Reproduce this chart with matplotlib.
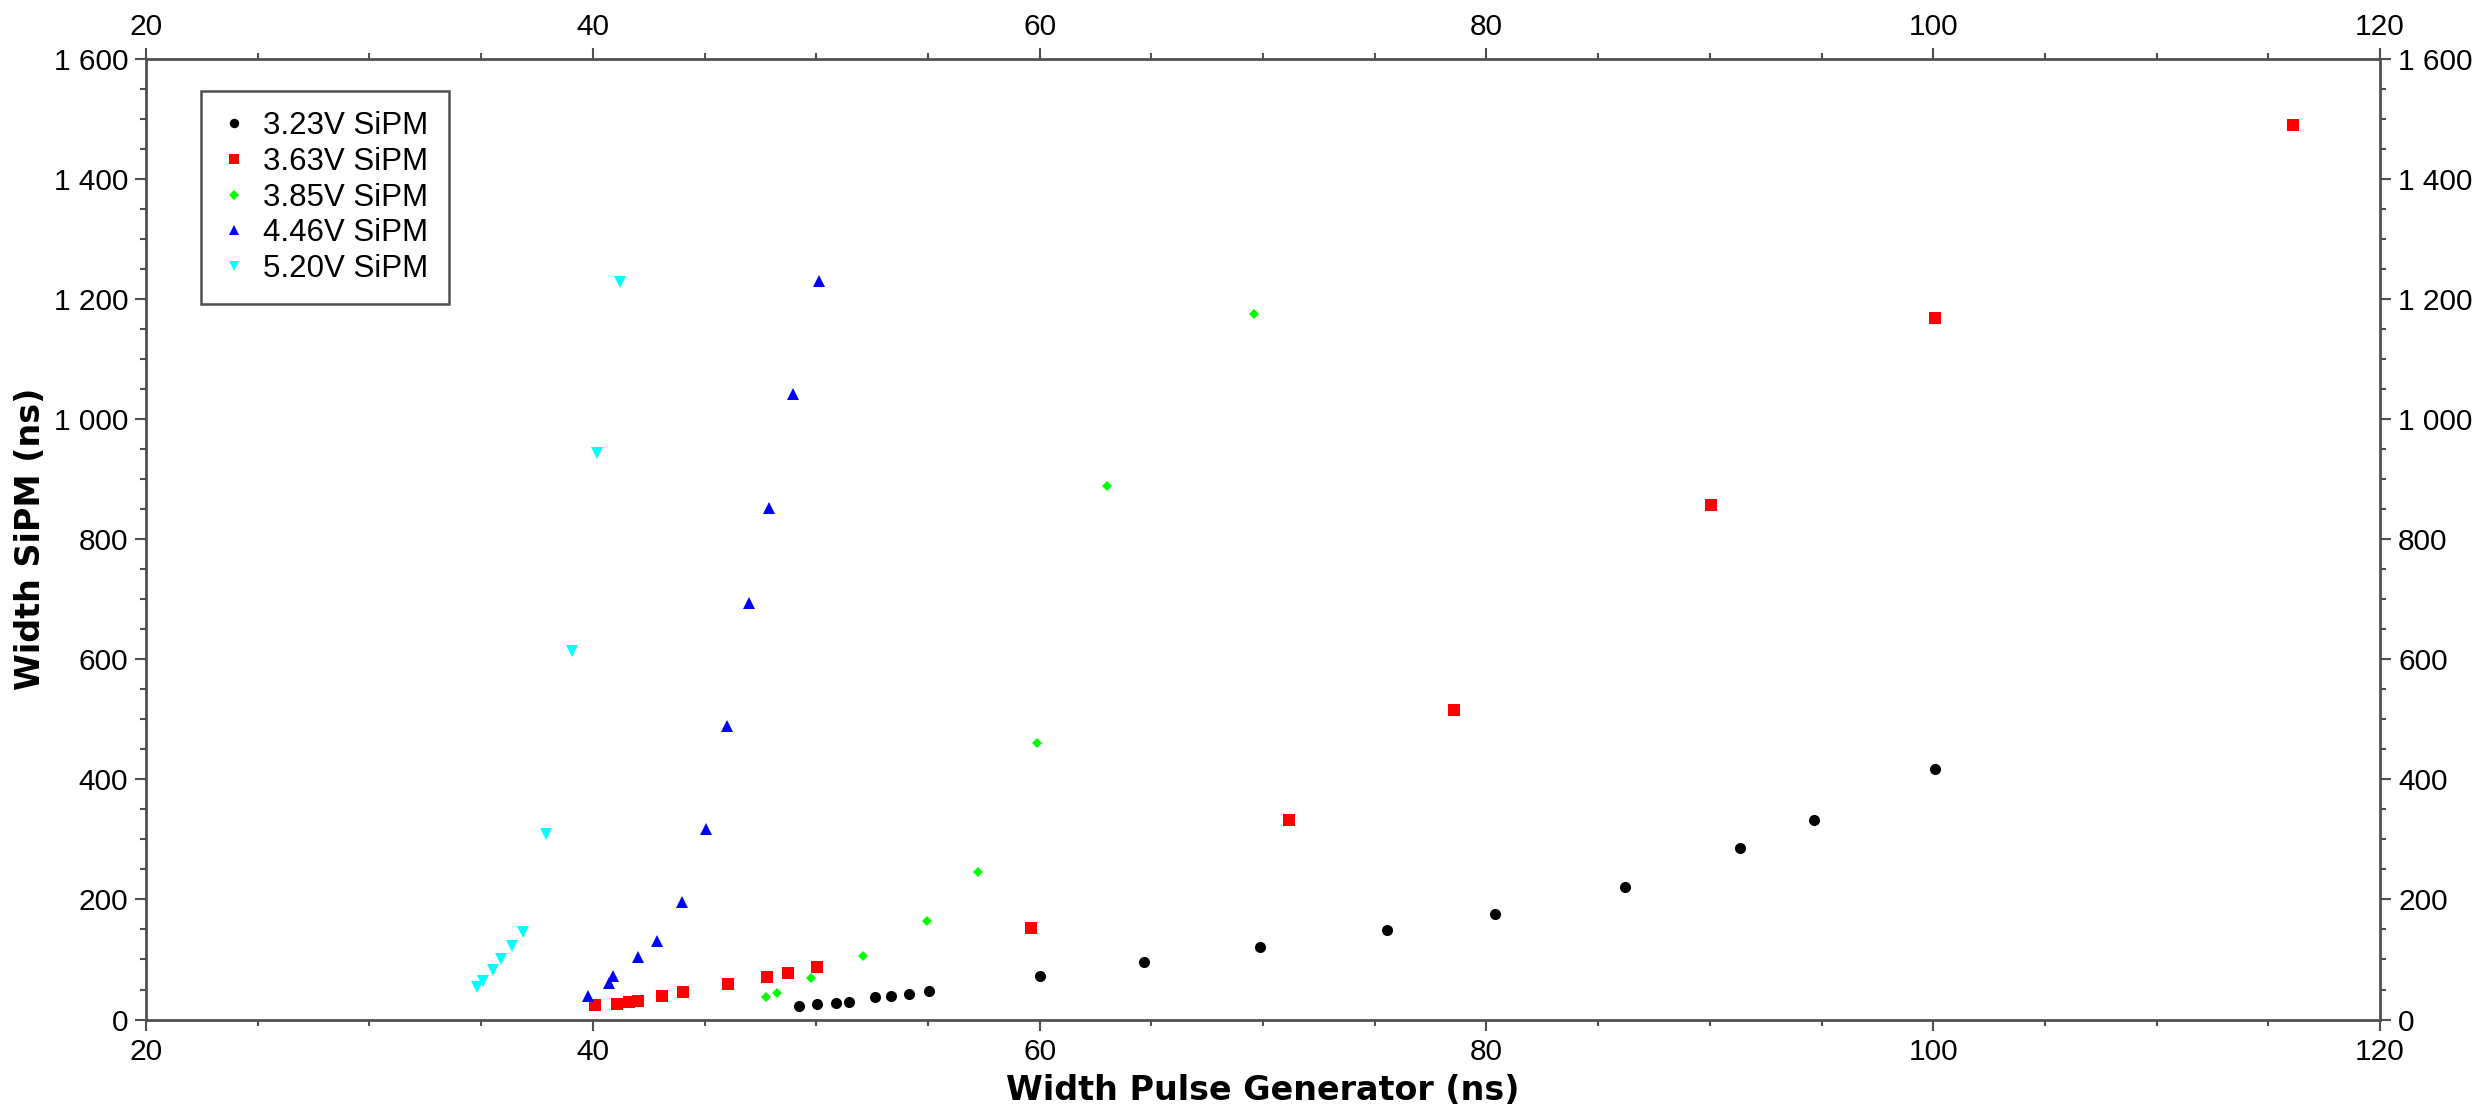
import matplotlib
matplotlib.use("Agg")
import matplotlib.pyplot as plt
from matplotlib.ticker import MultipleLocator, FuncFormatter

# width pulse generator (ns) / width SiPM (ns)
x_323 = [49.23, 50.05, 50.9, 51.45, 52.65, 53.36, 54.17, 55.05, 60.03,
         64.68, 69.85, 75.56, 80.38, 86.2, 91.37, 94.68, 100.08]
y_323 = [23, 25.5, 28, 30, 37, 39, 43, 48, 72.5, 96, 121, 149, 176, 221,
         285, 333, 417]

x_363 = [40.1, 41.1, 41.6, 42.04, 43.1, 44.05, 46.05, 47.8, 48.75, 50.05,
         59.6, 71.16, 78.55, 90.04, 100.06, 116.1]
y_363 = [24, 26, 29, 31, 40, 46, 60, 70, 77, 88, 152, 333, 515, 856, 1169,
         1489]

x_385 = [47.77, 48.23, 49.77, 52.08, 54.96, 57.26, 59.88, 63.0, 69.6]
y_385 = [37, 45, 69, 106, 164, 246, 461, 889, 1175]

x_446 = [39.77, 40.73, 40.9, 42.03, 42.85, 44.0, 45.07, 46.02, 47.0, 47.9,
         48.94, 50.14]
y_446 = [40, 61, 72, 104, 131, 195, 317, 489, 694, 851, 1041, 1230]

x_520 = [34.83, 35.07, 35.53, 35.9, 36.37, 36.85, 37.9, 39.08, 40.19, 41.2]
y_520 = [54, 64, 82, 100, 122, 146, 309, 613, 944, 1228]

series = [
    (x_323, y_323, "3.23V SiPM", "o", "black", 8),
    (x_363, y_363, "3.63V SiPM", "s", "#ff0000", 8),
    (x_385, y_385, "3.85V SiPM", "D", "#00ff00", 5.5),
    (x_446, y_446, "4.46V SiPM", "^", "#0000ff", 8),
    (x_520, y_520, "5.20V SiPM", "v", "#00ffff", 8.5),
]

plt.rcParams["font.family"] = ["Liberation Sans", "DejaVu Sans"]

fig = plt.figure(figsize=(24.89, 11.14), dpi=100)
ax = fig.add_axes([0.0587, 0.0848, 0.8975, 0.8625])

for xs, ys, lab, mk, col, ms in series:
    ax.plot(xs, ys, linestyle="none", marker=mk, color=col, markersize=ms,
            markeredgewidth=0, label=lab)

ax.set_xlim(20, 120)
ax.set_ylim(0, 1600)
ax.xaxis.set_major_locator(MultipleLocator(20))
ax.xaxis.set_minor_locator(MultipleLocator(5))
ax.yaxis.set_major_locator(MultipleLocator(200))
ax.yaxis.set_minor_locator(MultipleLocator(50))
ax.yaxis.set_major_formatter(FuncFormatter(lambda v, p: f"{int(v):,}".replace(",", " ")))

edge = "#505050"
for s in ax.spines.values():
    s.set_color(edge)
    s.set_linewidth(2)

ax.tick_params(which="both", direction="out", color=edge, width=1.5,
               top=True, right=True, labeltop=True, labelright=True,
               labelsize=21.5, labelcolor="black")
ax.tick_params(which="major", length=8, pad=5)
ax.tick_params(which="minor", length=4)

lab_font = dict(family="DejaVu Sans", fontweight="bold", fontsize=24)
ax.set_xlabel("Width Pulse Generator (ns)", labelpad=6, **lab_font)
ax.set_ylabel("Width SiPM (ns)", labelpad=5, **lab_font)

leg = ax.legend(loc="upper left", bbox_to_anchor=(0.0245, 0.9664),
                fontsize=22.5, frameon=True, fancybox=False, framealpha=1,
                handlelength=0.8, handletextpad=0.55, borderpad=0.65,
                labelspacing=0.18, borderaxespad=0, markerscale=0.85)
leg.get_frame().set_edgecolor(edge)
leg.get_frame().set_linewidth(1.8)

fig.savefig("out.png", dpi=100)
